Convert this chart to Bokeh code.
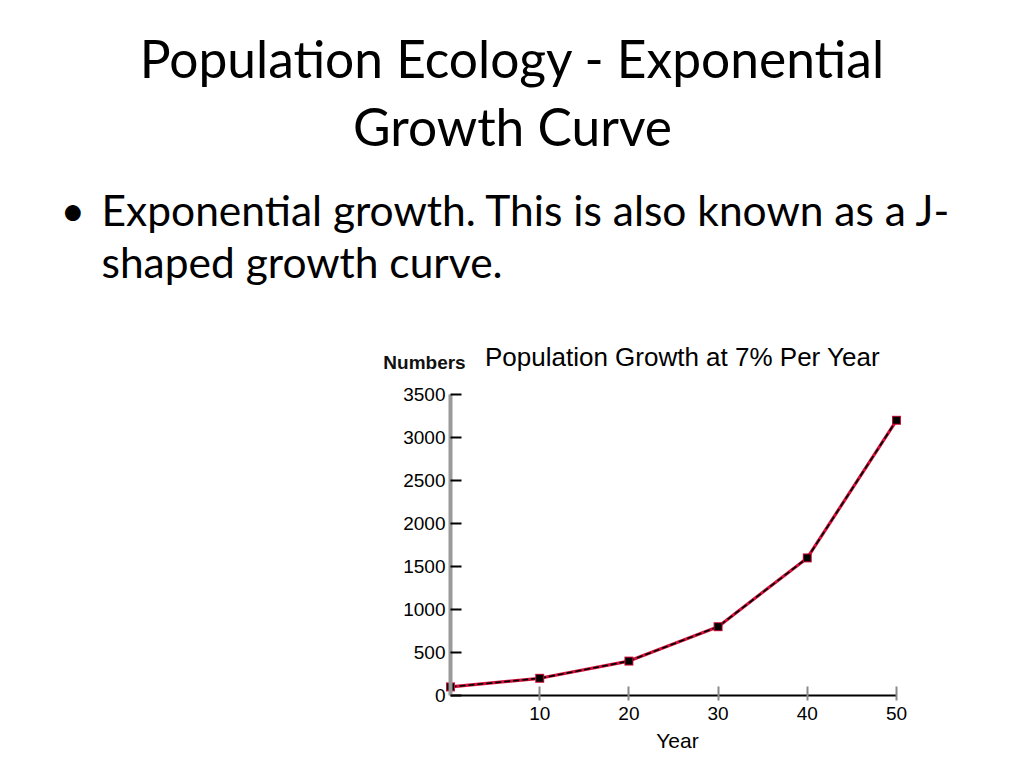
from bokeh.plotting import figure
from bokeh.models import Label, FixedTicker, ColumnDataSource, Range1d
from bokeh.embed import file_html
from bokeh.resources import INLINE

# ---- data ----
years = [0, 10, 20, 30, 40, 50]
numbers = [100, 200, 400, 800, 1600, 3200]
x_ticks = [10, 20, 30, 40, 50]
y_ticks = [0, 500, 1000, 1500, 2000, 2500, 3000, 3500]
x_bounds = (0, 50)
y_bounds = (0, 3500)

slide_title = ["Population Ecology - Exponential", "Growth Curve"]
bullet_lines = ["Exponential growth.  This is also known as a J-", "shaped growth curve."]
chart_title = "Population Growth at 7% Per Year"
y_label = "Numbers"
x_label = "Year"

# ---- layout (page pixels) ----
W, H = 1008, 760
AX_L, AX_R, AX_T, AX_B = 450, 896, 394, 695   # where the chart's axes sit

def X(px):
    return x_bounds[0] + (px - AX_L) * (x_bounds[1] - x_bounds[0]) / (AX_R - AX_L)

def Y(py):
    return y_bounds[0] + (AX_B - py) * (y_bounds[1] - y_bounds[0]) / (AX_B - AX_T)

chart_font = "Liberation Sans"
slide_font = "Lato"

p = figure(width=W, height=H,
           x_range=Range1d(X(0), X(W)), y_range=Range1d(Y(H), Y(0)),
           output_backend="svg", toolbar_location=None,
           min_border=0, min_border_left=0, min_border_right=0,
           min_border_top=0, min_border_bottom=0)
p.outline_line_color = None
p.xgrid.visible = False
p.ygrid.visible = False
p.background_fill_color = "white"
p.border_fill_color = "white"

src = ColumnDataSource(dict(x=years, y=numbers))
p.line("x", "y", source=src, line_color="#d0103a", line_width=3.2)
p.line("x", "y", source=src, line_color="black", line_width=1.6, line_dash="6 3")
p.scatter("x", "y", source=src, marker="square", size=9, fill_color="#d0103a", line_color=None)
p.scatter("x", "y", source=src, marker="square", size=7, fill_color="black", line_color=None)

xa = p.xaxis[0]
xa.fixed_location = 0
xa.bounds = x_bounds
xa.ticker = FixedTicker(ticks=x_ticks)
xa.axis_line_color = "black"
xa.axis_line_width = 2
xa.major_tick_line_color = "#8a8a8a"
xa.major_tick_line_width = 2
xa.major_tick_in = 9
xa.major_tick_out = 5
xa.minor_tick_line_color = None
xa.major_label_standoff = 6
xa.major_label_text_font = chart_font
xa.major_label_text_font_size = "19px"
xa.major_label_text_color = "black"

ya = p.yaxis[0]
ya.fixed_location = 0
ya.bounds = y_bounds
ya.ticker = FixedTicker(ticks=y_ticks)
ya.axis_line_color = "#9a9a9a"
ya.axis_line_width = 4
ya.major_tick_line_color = "black"
ya.major_tick_line_width = 2
ya.major_tick_in = 11
ya.major_tick_out = 0
ya.minor_tick_line_color = None
ya.major_label_standoff = 5
ya.major_label_text_font = chart_font
ya.major_label_text_font_size = "19px"
ya.major_label_text_color = "black"

def label(px, py, text, font, size, align="left", style="normal", color="black"):
    p.add_layout(Label(x=X(px), y=Y(py), text=text, text_align=align,
                       text_baseline="alphabetic", text_font=font,
                       text_font_size=size, text_font_style=style,
                       text_color=color))

# chart texts
label(682, 356, chart_title, chart_font, "26px", align="center")
label(424, 362, y_label, chart_font, "19px", align="center", style="bold", color="#111111")
label(677, 740, x_label, chart_font, "21px", align="center")

# slide texts
for txt, b in zip(slide_title, [57, 125]):
    label(512, b, txt, slide_font, "51.5px", align="center")
for txt, b in zip(bullet_lines, [209, 261]):
    label(101, b, txt, slide_font, "42.5px")
label(60, 209, "\u2022", slide_font, "42.5px")

open("out.html", "w").write(file_html(p, INLINE))
